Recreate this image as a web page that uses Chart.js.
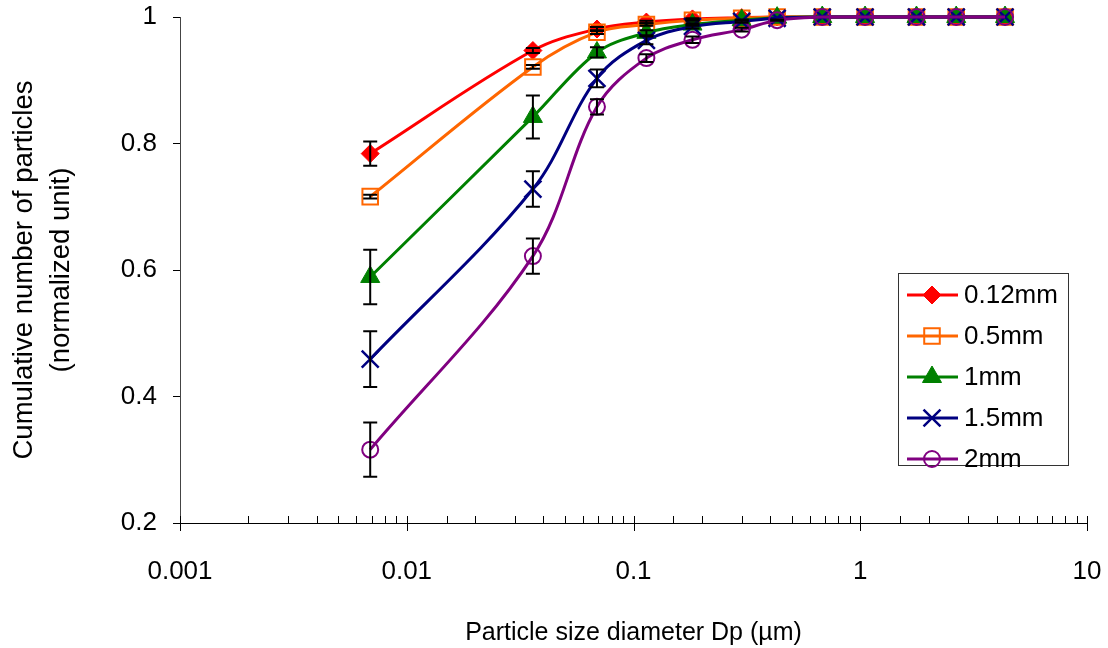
<!DOCTYPE html>
<html>
<head>
<meta charset="utf-8">
<script src="https://cdn.jsdelivr.net/npm/chart.js@4.4.1/dist/chart.umd.min.js"></script>
<style>
  html, body { margin: 0; padding: 0; background: #fff; }
  #wrap { width: 1108px; height: 648px; }
</style>
</head>
<body>
<div id="wrap"><canvas id="psdChart" width="1108" height="648"></canvas></div>
<script>
// particle diameters (um)
const sizes = [0.0069, 0.036, 0.069, 0.114, 0.182, 0.30, 0.43, 0.68, 1.05, 1.77, 2.65, 4.35];

const seriesNames = ['0.12mm', '0.5mm', '1mm', '1.5mm', '2mm'];

// cumulative number (normalized)
const cum012 = [0.784, 0.947, 0.981, 0.992, 0.997, 0.999, 1, 1, 1, 1, 1, 1];
const cum05  = [0.716, 0.921, 0.976, 0.988, 0.995, 0.998, 1, 1, 1, 1, 1, 1];
const cum1   = [0.589, 0.842, 0.944, 0.975, 0.988, 0.995, 0.999, 1, 1, 1, 1, 1];
const cum15  = [0.459, 0.728, 0.903, 0.963, 0.985, 0.993, 0.998, 1, 1, 1, 1, 1];
const cum2   = [0.316, 0.622, 0.858, 0.935, 0.964, 0.980, 0.995, 1, 1, 1, 1, 1];

// error bar half widths
const err012 = [0.019, 0.004, 0.003, 0.002, 0.001, 0, 0, 0, 0, 0, 0, 0];
const err05  = [0.003, 0.003, 0.003, 0.002, 0.001, 0, 0, 0, 0, 0, 0, 0];
const err1   = [0.043, 0.034, 0.008, 0.004, 0.002, 0.001, 0, 0, 0, 0, 0, 0];
const err15  = [0.044, 0.028, 0.014, 0.006, 0.003, 0.002, 0, 0, 0, 0, 0, 0];
const err2   = [0.043, 0.028, 0.012, 0.006, 0.005, 0.003, 0.001, 0, 0, 0, 0, 0];

const xTicks = [0.001, 0.01, 0.1, 1, 10];
const yTicks = [0.2, 0.4, 0.6, 0.8, 1];

const FONT = "'Liberation Sans', Arial, sans-serif";

const styles = [
  { color: '#ff0000', point: 'rectRot',  radius: 9,  fill: '#ff0000', bw: 1 },
  { color: '#ff6600', point: 'rect',     radius: 11, fill: 'rgba(0,0,0,0)', bw: 2 },
  { color: '#008000', point: 'triangle', radius: 11, fill: '#008000', bw: 1 },
  { color: '#000080', point: 'crossRot', radius: 12, fill: '#000080', bw: 2.5 },
  { color: '#800080', point: 'circle',   radius: 8,  fill: 'rgba(0,0,0,0)', bw: 2 }
];

const allVals = [cum012, cum05, cum1, cum15, cum2];
const allErrs = [err012, err05, err1, err15, err2];

const datasets = seriesNames.map((name, k) => ({
  label: name,
  data: sizes.map((x, i) => ({ x: x, y: allVals[k][i] })),
  errors: allErrs[k],
  borderColor: styles[k].color,
  backgroundColor: styles[k].fill,
  pointStyle: styles[k].point,
  pointRadius: styles[k].radius,
  pointBorderWidth: styles[k].bw,
  pointBackgroundColor: styles[k].fill,
  pointBorderColor: styles[k].color,
  borderWidth: 3,
  tension: 0.35,
  clip: false,
  order: seriesNames.length - k
}));

function isDecade(v) {
  const l = Math.log10(v);
  return Math.abs(l - Math.round(l)) < 1e-9;
}

// black error bars with caps
const errorBars = {
  id: 'errorBars',
  afterDatasetsDraw(chart) {
    const ctx = chart.ctx;
    const xs = chart.scales.x, ys = chart.scales.y;
    ctx.save();
    ctx.strokeStyle = '#000';
    ctx.lineWidth = 2;
    chart.data.datasets.forEach(ds => {
      ds.data.forEach((p, i) => {
        const e = ds.errors[i];
        if (!e) return;
        const px = xs.getPixelForValue(p.x);
        const top = ys.getPixelForValue(p.y + e);
        const bot = ys.getPixelForValue(p.y - e);
        ctx.beginPath();
        ctx.moveTo(px, top); ctx.lineTo(px, bot);
        ctx.moveTo(px - 7, top); ctx.lineTo(px + 7, top);
        ctx.moveTo(px - 7, bot); ctx.lineTo(px + 7, bot);
        ctx.stroke();
      });
    });
    ctx.restore();
  }
};

// log axis ticks: minor ones inside, decades crossing the axis
const logTicks = {
  id: 'logTicks',
  afterDraw(chart) {
    const ctx = chart.ctx;
    const xs = chart.scales.x;
    const y0 = chart.chartArea.bottom;
    ctx.save();
    ctx.strokeStyle = '#000';
    ctx.lineWidth = 1;
    xs.ticks.forEach(t => {
      const px = Math.round(xs.getPixelForValue(t.value)) + 0.5;
      ctx.beginPath();
      ctx.moveTo(px, y0 - 7);
      ctx.lineTo(px, isDecade(t.value) ? y0 + 8 : y0);
      ctx.stroke();
    });
    ctx.restore();
  }
};

// legend box inside the plot
const legendBox = {
  id: 'legendBox',
  afterDraw(chart) {
    const ctx = chart.ctx;
    const area = chart.chartArea;
    const x0 = area.right - 189, y0 = area.top + 256, w = 170, h = 192;
    ctx.save();
    ctx.fillStyle = '#fff';
    ctx.fillRect(x0, y0, w, h);
    ctx.strokeStyle = '#333';
    ctx.lineWidth = 1;
    ctx.strokeRect(x0 + 0.5, y0 + 0.5, w, h);
    ctx.font = '26px ' + FONT;
    ctx.textBaseline = 'middle';
    chart.data.datasets.forEach((ds, i) => {
      const cy = y0 + 22 + i * 41;
      ctx.strokeStyle = ds.borderColor;
      ctx.lineWidth = 3;
      ctx.beginPath();
      ctx.moveTo(x0 + 9, cy); ctx.lineTo(x0 + 60, cy);
      ctx.stroke();
      ctx.fillStyle = ds.pointBackgroundColor;
      ctx.lineWidth = ds.pointBorderWidth;
      Chart.helpers.drawPoint(ctx, {
        pointStyle: ds.pointStyle, radius: ds.pointRadius, rotation: 0,
        borderWidth: ds.pointBorderWidth
      }, x0 + 34, cy);
      ctx.fillStyle = '#000';
      ctx.fillText(ds.label, x0 + 66, cy + 1);
    });
    ctx.restore();
  }
};

const config = {
  type: 'line',
  data: { datasets: datasets },
  options: {
    responsive: false,
    animation: false,
    layout: { padding: { top: 17, right: 21, left: 0, bottom: 0 } },
    plugins: {
      legend: { display: false },
      tooltip: { enabled: false }
    },
    scales: {
      x: {
        type: 'logarithmic',
        min: 0.001,
        max: 10,
        afterFit: s => { s.height = 125; s.paddingLeft = 0; s.paddingRight = 0; },
        grid: { display: false },
        border: { display: true, color: '#000', width: 1 },
        ticks: {
          autoSkip: false,
          maxRotation: 0,
          padding: 25,
          color: '#000',
          font: { family: FONT, size: 26 },
          callback: v => (xTicks.some(t => Math.abs(t - v) / t < 1e-9) ? String(v) : '')
        },
        title: {
          display: true,
          text: 'Particle size diameter Dp (\u00b5m)',
          color: '#000',
          font: { family: FONT, size: 25 },
          padding: { top: 0, bottom: 0 }
        }
      },
      y: {
        min: 0.2,
        max: 1,
        afterFit: s => { s.width = 180; s.paddingTop = 0; s.paddingBottom = 0; },
        afterBuildTicks: s => { s.ticks = yTicks.map(v => ({ value: v })); },
        grid: { drawOnChartArea: false, tickLength: 7, color: '#000' },
        border: { display: true, color: '#444', width: 1 },
        ticks: {
          padding: 16,
          color: '#000',
          font: { family: FONT, size: 26 },
          callback: v => String(Number(v.toFixed(1)))
        },
        title: {
          display: true,
          text: ['Cumulative number of particles', '(normalized unit)'],
          color: '#000',
          font: { family: FONT, size: 27.5, lineHeight: 1.345 },
          padding: { top: 6, bottom: 0 }
        }
      }
    }
  },
  plugins: [errorBars, logTicks, legendBox]
};

const ctx = document.getElementById('psdChart').getContext('2d');
const psdChart = new Chart(ctx, config);
</script>
</body>
</html>
